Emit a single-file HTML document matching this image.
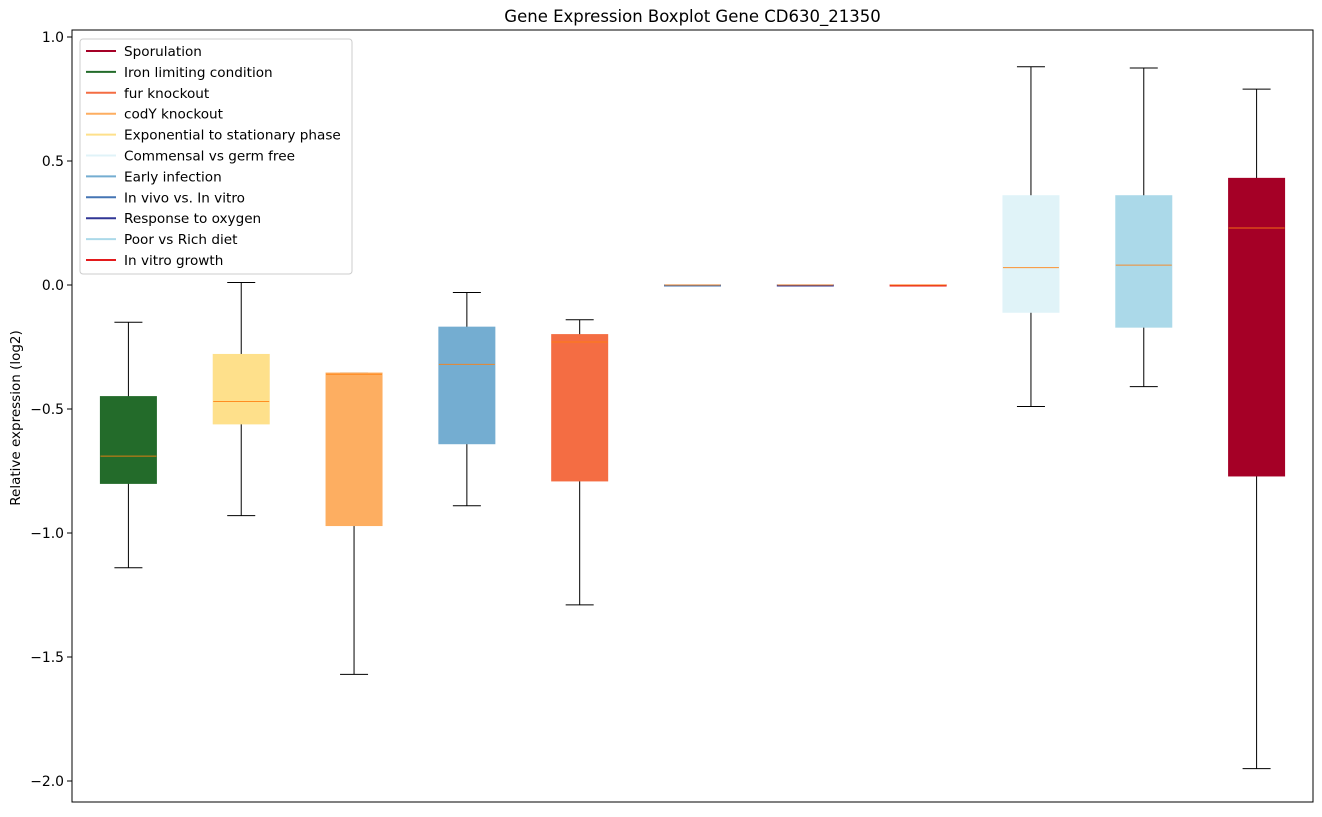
<!DOCTYPE html>
<html><head><meta charset="utf-8"><style>
body{margin:0;background:#fff;font-family:"Liberation Sans","DejaVu Sans",sans-serif;}
svg text{font-family:"DejaVu Sans","Liberation Sans",sans-serif;}
</style></head><body>
<svg id="chart" width="1322" height="812"></svg>
<script>
const categories=["Iron limiting condition","Exponential to stationary phase","codY knockout","Early infection","fur knockout","In vivo vs. In vitro","Response to oxygen","In vitro growth","Commensal vs germ free","Poor vs Rich diet","Sporulation"];
const boxColors=["#236b2a","#fee08b","#fdae61","#74add1","#f46d43","#4575b4","#313695","#e31a1c","#e0f3f8","#abd9e9","#a50026"];
const whiskerLow=[-1.14,-0.93,-1.57,-0.89,-1.29,0,0,0,-0.49,-0.41,-1.95];
const q1Values=[-0.80,-0.56,-0.97,-0.64,-0.79,0,0,0,-0.11,-0.17,-0.77];
const medianValues=[-0.69,-0.47,-0.36,-0.32,-0.23,0,0,0,0.07,0.08,0.23];
const q3Values=[-0.45,-0.28,-0.355,-0.17,-0.20,0,0,0,0.36,0.36,0.43];
const whiskerHigh=[-0.15,0.01,-0.355,-0.03,-0.14,0,0,0,0.88,0.875,0.79];
const yTicks=[1.0,0.5,0.0,-0.5,-1.0,-1.5,-2.0];
const yTickLabels=["1.0","0.5","0.0","\u22120.5","\u22121.0","\u22121.5","\u22122.0"];
const legendLabels=["Sporulation","Iron limiting condition","fur knockout","codY knockout","Exponential to stationary phase","Commensal vs germ free","Early infection","In vivo vs. In vitro","Response to oxygen","Poor vs Rich diet","In vitro growth"];
const legendColors=["#a50026","#236b2a","#f46d43","#fdae61","#fee08b","#e0f3f8","#74add1","#4575b4","#313695","#abd9e9","#e31a1c"];

const NS="http://www.w3.org/2000/svg";
const svg=document.getElementById('chart');
const L=72,R=1313,T=30,B=802;
const y=v=>285-248*v;
const x=i=>L+(i+0.5)*(R-L)/categories.length;
function mk(tag,attrs,parent){const e=document.createElementNS(NS,tag);for(const k in attrs)e.setAttribute(k,attrs[k]);(parent||svg).appendChild(e);return e;}

const title=mk('text',{x:(L+R)/2,y:22,'text-anchor':'middle','font-size':16.5});
title.textContent="Gene Expression Boxplot Gene CD630_21350";



const yl=mk('text',{x:0,y:0,'text-anchor':'middle','font-size':13.5,transform:'translate(20,418) rotate(-90)'});
yl.textContent="Relative expression (log2)";



yTicks.forEach((v,i)=>{
  const tk=mk('line',{x1:L-5,x2:L,y1:y(v),y2:y(v),stroke:'#000'});
  
  
  const t=mk('text',{x:L-8,y:y(v)+5,'text-anchor':'end','font-size':13.9});
  t.textContent=yTickLabels[i];
  
  
});

const hw=28;
categories.forEach((c,i)=>{
  const g=mk('g',{});
  
  
  const cx=x(i);
  mk('line',{x1:cx,x2:cx,y1:y(whiskerLow[i]),y2:y(q1Values[i]),stroke:'#000'},g);
  mk('line',{x1:cx,x2:cx,y1:y(q3Values[i]),y2:y(whiskerHigh[i]),stroke:'#000'},g);
  mk('line',{x1:cx-hw/2,x2:cx+hw/2,y1:y(whiskerLow[i]),y2:y(whiskerLow[i]),stroke:'#000'},g);
  mk('line',{x1:cx-hw/2,x2:cx+hw/2,y1:y(whiskerHigh[i]),y2:y(whiskerHigh[i]),stroke:'#000'},g);
  const h=Math.max(y(q1Values[i])-y(q3Values[i]),1);
  mk('rect',{x:cx-hw,y:y(q3Values[i]),width:2*hw,height:h,fill:boxColors[i],stroke:boxColors[i]},g);
  mk('line',{x1:cx-hw,x2:cx+hw,y1:y(medianValues[i]),y2:y(medianValues[i]),stroke:'#ff7f0e','stroke-opacity':0.85},g);
});

mk('rect',{x:L,y:T,width:R-L,height:B-T,fill:'none',stroke:'#000'});

const lg=mk('g',{});


mk('rect',{x:80,y:39,width:272,height:235,rx:3,fill:'#fff','fill-opacity':0.8,stroke:'#ccc'},lg);
legendLabels.forEach((lab,i)=>{
  const e=mk('g',{},lg);
  
  
  const yy=51+i*20.9;
  mk('line',{x1:86,x2:116,y1:yy,y2:yy,stroke:legendColors[i],'stroke-width':2},e);
  const t=mk('text',{x:124,y:yy+5,'font-size':13.6},e);
  t.textContent=lab;
});
</script>
</body></html>
